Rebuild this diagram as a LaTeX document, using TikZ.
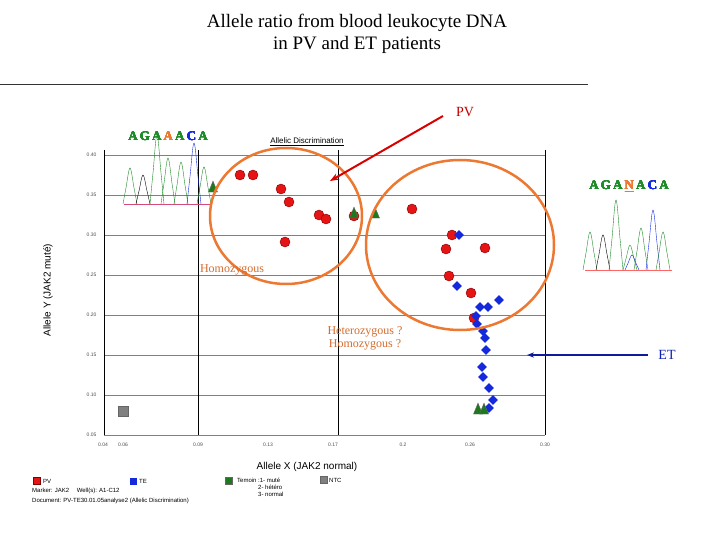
\documentclass[tikz,border=0pt]{standalone}
\usepackage{fontspec}
\setmainfont{Liberation Serif}
\setsansfont{Liberation Sans}
\usetikzlibrary{shapes.geometric,arrows.meta}
\definecolor{pvred}{RGB}{230,20,20}
\definecolor{etblue}{RGB}{20,40,220}
\definecolor{tgreen}{RGB}{30,120,30}
\definecolor{ringorange}{RGB}{236,120,50}
\definecolor{seqgreen}{RGB}{30,140,40}
\tikzset{
  pvdot/.style={circle, fill=pvred, draw=red!50!black, inner sep=0pt, minimum size=10pt},
  etdot/.style={diamond, fill=etblue, inner sep=0pt, minimum size=10pt},
  tdot/.style={isosceles triangle, shape border rotate=90, fill=tgreen, draw=black!60, inner sep=0pt, minimum size=9pt},
  tick/.style={font=\sffamily\fontsize{5}{5}\selectfont, text=black!70},
  leg/.style={font=\sffamily\fontsize{6}{7}\selectfont, anchor=west, inner sep=0pt},
  ring/.style={draw=ringorange, line width=2.5pt},
  note/.style={font=\fontsize{12}{14}\selectfont, text=ringorange!90!black},
  seq/.style={font=\bfseries\fontsize{13}{14}\selectfont, text=seqgreen}
}
\newcommand{\peak}[4]{\draw[#4, thin] plot[smooth, tension=0.6] coordinates {(#1-7,#3) (#1-4,{#3-0.45*(#3-#2)}) (#1,#2) (#1+4,{#3-0.45*(#3-#2)}) (#1+7,#3)};}
\begin{document}
\begin{tikzpicture}[x=1pt,y=-1pt]
\useasboundingbox (0,0) rectangle (720,540);
% Title
\node[font=\fontsize{19}{22}\selectfont, align=center] (title) at (357,34) {Allele ratio from blood leukocyte DNA\\in PV and ET patients};
\draw[black!80] (0,84) -- (588,84);

% Plot frame and grid
\foreach \yy/\lab in {155/0.40,195/0.35,235/0.30,275/0.25,315/0.20,355/0.15,395/0.10,435/0.05} {
  \draw[black!50] (104,\yy) -- (545,\yy);
  \node[tick, anchor=east] at (100,\yy) {\lab};
}
\foreach \xx in {104,198,338,545} \draw[black] (\xx,150) -- (\xx,435);
\foreach \xx/\lab in {103/0.04,123/0.06,198/0.09,268/0.13,333/0.17,403/0.2,470/0.26,545/0.30}
  \node[tick] at (\xx,445) {\lab};
\node[font=\sffamily\fontsize{8}{9}\selectfont] (atitle) at (307,142) {\underline{Allelic Discrimination}};
\node[font=\sffamily\fontsize{10}{11}\selectfont] (xlab) at (307,467) {Allele X (JAK2 normal)};
\node[font=\sffamily\fontsize{10}{11}\selectfont, rotate=90] (ylab) at (48,290) {Allele Y (JAK2 muté)};

% Chromatograms
\draw[purple!70] (124,204) -- (210,204);
\foreach \px/\top/\c in {130/168/seqgreen,143/175/black,157/135/seqgreen,168/158/seqgreen,181/162/seqgreen,194/143/etblue,204/167/seqgreen}
  \peak{\px}{\top}{204}{\c}
\node[seq] (seqL) at (168,136) {A\,G\,A\,\textcolor{ringorange}{A}\,A\,\textcolor{etblue}{C}\,A};
\draw[red!60] (585,270) -- (672,270);
\foreach \px/\top/\c in {590/232/seqgreen,603/235/black,616/200/seqgreen,630/245/seqgreen,632/255/etblue,641/228/seqgreen,653/210/etblue,663/232/seqgreen}
  \peak{\px}{\top}{270}{\c}
\node[seq] (seqR) at (629,186) {A\,G\,A\,\textcolor{ringorange}{\underline{N}}\,A\,\textcolor{etblue}{C}\,A};

% Data points
\foreach \px/\py in {240/175,253/175,281/189,289/202,319/215,326/219,285/242,354/216,412/209,452/235,446/249,485/248,449/276,471/293,474/318}
  \node[pvdot] at (\px,\py) {};
\foreach \px/\py in {459/235,457/286,480/307,488/307,499/300,476/316,477/324,483/331,485/338,486/350,482/367,483/377,489/388,493/400,489/408}
  \node[etdot] at (\px,\py) {};
\foreach \px/\py in {213/189,354/215,375/215,478/411,484/411}
  \node[tdot] at (\px,\py) {};
\node[rectangle, fill=gray, draw=black!60, minimum size=10pt, inner sep=0pt] (ntc) at (123,411) {};

% Rings
\draw[ring] (286,216) ellipse[x radius=76, y radius=68];
\draw[ring] (460,245) ellipse[x radius=94, y radius=85];
\node[note] (homo) at (232,270) {Homozygous};
\node[note, align=center, font=\fontsize{12}{13}\selectfont] (hetero) at (365,338) {Heterozygous ?\\Homozygous ?};

% Labels with arrows
\node[font=\fontsize{14}{15}\selectfont, text=red!75!black] (pv) at (465,112) {PV};
\coordinate (pvtip) at (330,181);
\draw[-{Stealth[length=9pt]}, red!85!black, line width=2pt] (443,116) -- (pvtip);
\node[font=\fontsize{14}{15}\selectfont, text=etblue!80!black] (et) at (667,355) {ET};
\coordinate (ettip) at (527,355);
\draw[-{Stealth[length=7pt]}, etblue!70!black, line width=1.2pt] (et.west) ++(-7,0) -- (ettip);

% Legend
\node[pvdot, rectangle, minimum size=7pt] (lpv) at (37,481) {};
\node[leg] at (43,481) {PV};
\node[etdot, rectangle, minimum size=7pt] (let) at (133,481) {};
\node[leg] at (139,481) {TE};
\node[tdot, rectangle, minimum size=7pt] (lt) at (229,481) {};
\node[leg, align=left, anchor=north west] at (237,478) {Temoin :1- muté\\\hspace{21pt}2- hétéro\\\hspace{21pt}3- normal};
\node[rectangle, fill=gray, draw=black!60, minimum size=7pt, inner sep=0pt] (lntc) at (324,480) {};
\node[leg] at (329,480) {NTC};
\node[leg] at (32,491) {Marker: JAK2 \quad Well(s): A1-C12};
\node[leg] at (32,501) {Document: PV-TE30.01.05analyse2 (Allelic Discrimination)};
\end{tikzpicture}
\end{document}
